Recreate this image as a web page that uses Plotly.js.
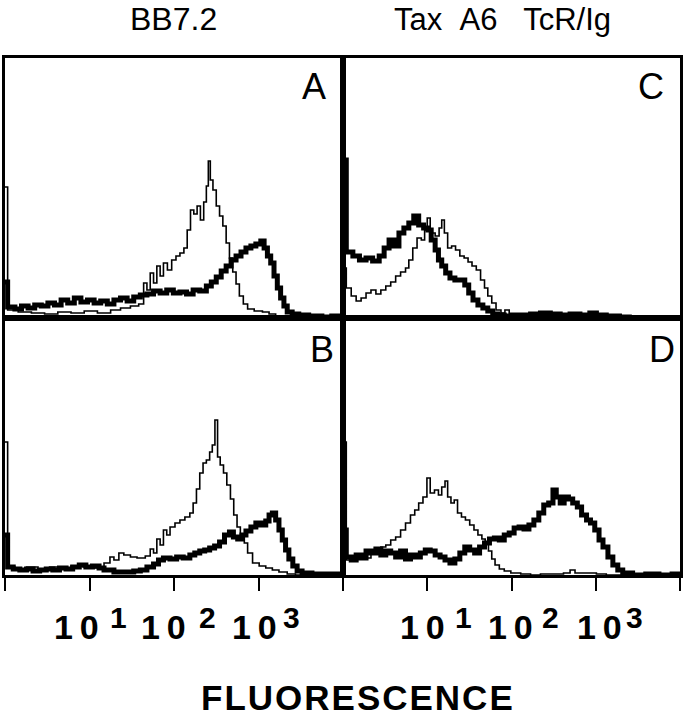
<!DOCTYPE html>
<html>
<head>
<meta charset="utf-8">
<script src="https://cdn.plot.ly/plotly-3.0.1.min.js"></script>
<style>html,body{margin:0;padding:0;background:#fff}</style>
</head>
<body>
<div id="chart" style="width:685px;height:719px"></div>
<script>
// channel (0-1024 over 4 log decades) and counts
const aThinCh = [0, 8, 40, 80, 120, 160, 200, 240, 280, 320, 350, 380, 405, 420, 430, 440, 450, 460, 470, 480, 492, 505, 518, 530, 542, 552, 562, 572, 582, 592, 602, 610, 616, 622, 630, 640, 650, 660, 670, 680, 690, 700, 710, 722, 735, 755, 780, 800, 820, 850, 880, 1024];
const aThinCount = [131, 8, 6, 5, 4, 6, 5, 7, 5, 8, 10, 12, 14, 35, 28, 45, 35, 52, 42, 55, 48, 58, 62, 65, 70, 88, 108, 104, 112, 98, 116, 132, 157, 138, 128, 112, 102, 92, 75, 60, 46, 34, 22, 14, 9, 7, 6, 4, 2, 1, 0, 0];
const aThickCh = [0, 8, 30, 50, 70, 90, 110, 130, 150, 170, 190, 210, 230, 250, 270, 290, 310, 330, 350, 370, 390, 410, 430, 450, 470, 490, 510, 530, 550, 570, 590, 610, 625, 640, 655, 670, 685, 700, 715, 730, 745, 760, 775, 785, 795, 805, 815, 825, 835, 845, 855, 870, 890, 920, 960, 990, 1024];
const aThickCount = [36, 11, 9, 12, 10, 13, 12, 15, 13, 18, 15, 20, 16, 18, 15, 17, 14, 18, 20, 17, 21, 23, 24, 27, 25, 28, 25, 26, 24, 28, 27, 32, 36, 41, 47, 52, 58, 62, 66, 70, 72, 74, 77, 70, 62, 55, 42, 30, 20, 12, 6, 4, 3, 2, 1, 2, 1];

const bThinCh = [0, 8, 30, 65, 100, 135, 170, 200, 237, 270, 300, 318, 330, 345, 360, 380, 400, 425, 440, 450, 460, 470, 480, 490, 500, 515, 530, 545, 560, 570, 580, 590, 600, 610, 620, 628, 636, 644, 652, 662, 672, 683, 693, 703, 713, 725, 735, 750, 770, 790, 810, 830, 855, 880, 1024];
const bThinCount = [133, 8, 6, 8, 6, 8, 7, 9, 8, 7, 12, 18, 15, 22, 20, 18, 17, 19, 26, 22, 36, 30, 45, 40, 48, 52, 55, 58, 62, 72, 86, 102, 112, 115, 123, 130, 155, 118, 110, 102, 90, 76, 60, 48, 40, 32, 22, 12, 9, 7, 5, 3, 1, 0, 0];
const bThickCh = [0, 8, 25, 45, 65, 85, 105, 125, 145, 165, 185, 205, 225, 245, 265, 285, 300, 330, 360, 390, 410, 430, 450, 465, 480, 500, 520, 540, 560, 575, 590, 605, 620, 635, 650, 665, 680, 692, 705, 718, 730, 745, 760, 775, 790, 800, 810, 820, 830, 840, 850, 860, 872, 885, 900, 930, 970, 1024];
const bThickCount = [40, 8, 6, 5, 6, 4, 5, 6, 5, 7, 6, 8, 10, 8, 9, 7, 5, 3, 3, 4, 5, 8, 11, 15, 17, 16, 18, 17, 20, 22, 24, 25, 27, 29, 33, 40, 43, 38, 36, 40, 44, 48, 52, 50, 54, 60, 62, 55, 45, 35, 25, 16, 9, 4, 2, 1, 1, 1];

const cThinCh = [0, 10, 25, 40, 55, 70, 85, 100, 115, 130, 145, 160, 175, 190, 200, 212, 225, 238, 248, 256, 265, 280, 292, 300, 308, 318, 330, 342, 355, 368, 380, 392, 405, 418, 430, 440, 452, 465, 480, 492, 505, 530, 560, 600, 650, 700, 750, 800, 850, 1024];
const cThinCount = [50, 30, 22, 17, 20, 25, 28, 24, 28, 32, 36, 42, 46, 50, 58, 70, 80, 78, 88, 100, 85, 82, 90, 98, 85, 70, 72, 68, 62, 60, 56, 52, 48, 38, 30, 22, 15, 8, 5, 8, 4, 3, 2, 3, 2, 2, 2, 1, 0, 0];
const cThickCh = [0, 10, 30, 50, 70, 90, 110, 125, 140, 155, 170, 185, 200, 215, 230, 245, 258, 268, 280, 290, 300, 312, 325, 340, 355, 370, 382, 395, 410, 425, 440, 455, 470, 490, 515, 540, 570, 600, 630, 660, 690, 720, 750, 770, 800, 840, 870, 1024];
const cThickCount = [158, 66, 62, 58, 60, 57, 62, 70, 78, 72, 85, 90, 95, 102, 93, 90, 88, 78, 68, 58, 52, 45, 40, 38, 38, 33, 25, 18, 13, 10, 7, 4, 3, 2, 3, 3, 4, 5, 4, 3, 4, 3, 5, 3, 2, 1, 0, 0];

const dThinCh = [0, 10, 25, 40, 55, 70, 85, 100, 115, 130, 145, 160, 175, 190, 205, 218, 230, 243, 255, 265, 278, 290, 300, 310, 318, 328, 338, 348, 360, 372, 385, 398, 410, 422, 432, 442, 452, 462, 475, 490, 510, 540, 570, 600, 640, 670, 690, 705, 740, 770, 800, 1024];
const dThinCount = [133, 15, 18, 16, 20, 17, 25, 22, 28, 30, 35, 38, 45, 52, 60, 65, 72, 78, 97, 82, 85, 80, 88, 94, 78, 72, 75, 62, 58, 55, 50, 45, 40, 36, 32, 24, 16, 10, 6, 4, 2, 1, 0, 1, 1, 2, 5, 2, 2, 1, 0, 0];
const dThickCh = [0, 10, 25, 40, 55, 70, 85, 100, 115, 130, 145, 160, 175, 190, 205, 220, 235, 250, 265, 280, 295, 310, 325, 340, 355, 370, 385, 400, 415, 430, 445, 460, 475, 490, 505, 520, 535, 550, 565, 580, 595, 610, 625, 638, 648, 660, 672, 685, 698, 712, 725, 740, 752, 765, 778, 790, 805, 820, 835, 850, 880, 920, 960, 1000, 1024];
const dThickCount = [45, 18, 15, 20, 17, 24, 22, 26, 20, 24, 22, 18, 24, 16, 20, 18, 22, 25, 24, 20, 18, 15, 12, 16, 22, 28, 25, 22, 28, 32, 36, 37, 35, 40, 42, 47, 48, 46, 50, 55, 62, 70, 72, 85, 78, 72, 78, 76, 72, 68, 60, 55, 52, 45, 35, 28, 18, 10, 5, 2, 0, 1, 0, 1, 1];

const columnTitles = ['BB7.2', 'Tax\u00a0\u00a0A6\u00a0\u00a0\u00a0TcR/Ig'];
const panelLetters = ['A', 'B', 'C', 'D'];
const decadeTicks = [0, 256, 512, 768, 1024];
const tickBase = '1\u20090';
const tickExps = ['1', '2', '3'];
const axisTitle = 'FLUORESCENCE';

const W = 685, H = 719;
const px = v => v / W;
const py = v => 1 - v / H;

function hist(x, y, n, width) {
  return {
    x: x, y: y, xaxis: 'x' + n, yaxis: 'y' + n,
    type: 'scatter', mode: 'lines', hoverinfo: 'skip',
    line: { shape: 'hv', color: '#000', width: width }
  };
}

function xAxis(dom, anchor, bottom) {
  return {
    domain: dom, anchor: anchor, range: [0, 1024],
    showgrid: false, zeroline: false,
    showline: true, mirror: true, linecolor: '#000', linewidth: 3,
    tickvals: decadeTicks, ticks: bottom ? 'outside' : '',
    ticklen: 13, tickwidth: 2, tickcolor: '#000',
    showticklabels: false, fixedrange: true
  };
}

function yAxis(dom, anchor, top) {
  return {
    domain: dom, anchor: anchor, range: [0, top],
    showgrid: false, zeroline: false,
    showline: true, mirror: true, linecolor: '#000', linewidth: 3,
    ticks: '', showticklabels: false, fixedrange: true
  };
}

const leftDom = [px(5), px(343)];
const rightDom = [px(343), px(680)];
const topDom = [py(318), py(58)];
const botDom = [py(575), py(318)];

const traces = [
  hist(aThinCh, aThinCount, '', 1.6), hist(aThickCh, aThickCount, '', 5),
  hist(bThinCh, bThinCount, '2', 1.6), hist(bThickCh, bThickCount, '2', 5),
  hist(cThinCh, cThinCount, '3', 1.6), hist(cThickCh, cThickCount, '3', 5),
  hist(dThinCh, dThinCount, '4', 1.6), hist(dThickCh, dThickCount, '4', 5)
];

const annotations = [];
function note(text, x, y, size, bold) {
  annotations.push({
    text: bold ? '<b>' + text + '</b>' : text,
    xref: 'paper', yref: 'paper', x: px(x), y: py(y),
    xanchor: 'center', yanchor: 'middle', showarrow: false,
    font: { family: 'Liberation Sans, Arial, sans-serif', size: size, color: '#000' }
  });
}

note(columnTitles[0], 174, 19, 32);
note(columnTitles[1], 502, 19, 31);

note(panelLetters[0], 314, 86, 36);
note(panelLetters[1], 322, 349, 36);
note(panelLetters[2], 651, 86, 36);
note(panelLetters[3], 662, 349, 36);

const baseX = [76, 163, 254, 422, 510, 599];
const expX = [118, 207, 291, 463, 550, 634];
for (let i = 0; i < 6; i++) {
  note(tickBase, baseX[i], 627, 34, true);
  note(tickExps[i % 3], expX[i], 617, 30, true);
}

note(axisTitle, 358, 697, 35, true);

const layout = {
  width: W, height: H,
  margin: { l: 0, r: 0, t: 0, b: 0 },
  paper_bgcolor: '#fff', plot_bgcolor: '#fff',
  showlegend: false,
  xaxis: xAxis(leftDom, 'y', false), yaxis: yAxis(topDom, 'x', 260),
  xaxis2: xAxis(leftDom, 'y2', true), yaxis2: yAxis(botDom, 'x2', 257),
  xaxis3: xAxis(rightDom, 'y3', false), yaxis3: yAxis(topDom, 'x3', 260),
  xaxis4: xAxis(rightDom, 'y4', true), yaxis4: yAxis(botDom, 'x4', 257),
  annotations: annotations
};

Plotly.newPlot('chart', traces, layout, { staticPlot: true, displayModeBar: false }).then(function () {
  // the axis word is set a little wide in the original figure
  document.querySelectorAll('.annotation-text').forEach(function (t) {
    if (t.textContent === axisTitle) t.style.letterSpacing = '2px';
  });
});
</script>
</body>
</html>
